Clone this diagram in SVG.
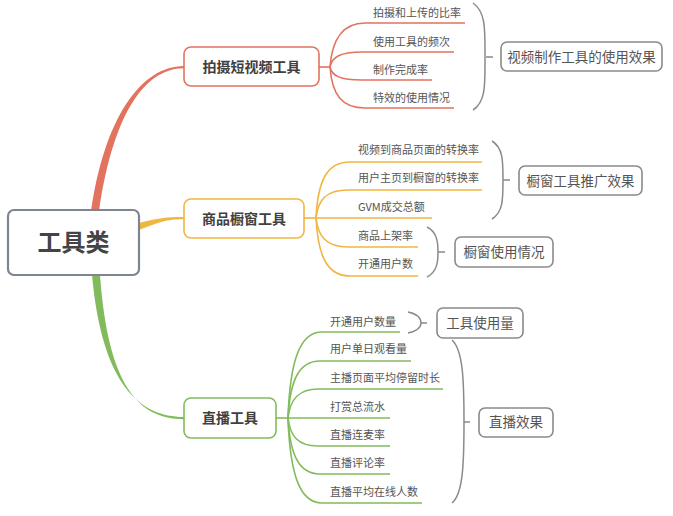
<svg xmlns="http://www.w3.org/2000/svg" width="673" height="516" viewBox="0 0 673 516">
<style>
text{font-family:"Noto Sans CJK SC","Noto Sans",sans-serif;fill:#444}
.leaf{font-size:11px;fill:#555}
.sum{font-size:13.5px;fill:#555}
.br{font-size:14px;font-weight:bold;fill:#404040}
.r{stroke:#e2735f;fill:none;stroke-width:1.6}
.y{stroke:#f0b640;fill:none;stroke-width:1.6}
.g{stroke:#82bb5c;fill:none;stroke-width:1.6}
.k{stroke:#8a8a8a;fill:none;stroke-width:1.5}
.box{fill:#fff;stroke-width:1.6}
</style>
<rect width="673" height="516" fill="#fff"/>
<g id="connectors">
<path d="M91 212 C104 120 140 66 184 66 L184 68.2 C142 68.2 112 120 99 212 Z" fill="#e2735f"/>
<path d="M139 223 C158 218 166 217 184 217 L184 219.2 C166 219.2 160 222 139 230 Z" fill="#f0b640"/>
<path d="M92 275 C102 385 140 417 184 417 L184 419.2 C138 419.2 108 385 100 275 Z" fill="#82bb5c"/>
<path class="r" d="M319 67 H330"/>
<path class="r" d="M330 67 C332 40 342 23 365 23 H465"/>
<path class="r" d="M330 67 C332 57 340 52 362 52 H454"/>
<path class="r" d="M330 67 C332 76 340 80 362 80 H432"/>
<path class="r" d="M330 67 C332 95 342 108 365 108 H454"/>
<path class="y" d="M304 218 H316"/>
<path class="y" d="M316 218 C318 180 327 162 350 162 H482"/>
<path class="y" d="M316 218 C318 200 326 190 348 190 H482"/>
<path class="y" d="M316 218 H432"/>
<path class="y" d="M316 218 C318 236 326 247 348 247 H418"/>
<path class="y" d="M316 218 C318 256 327 276 350 276 H418"/>
<path class="g" d="M276 418 H288"/>
<path class="g" d="M288 418 C290 360 300 332 322 332 H400"/>
<path class="g" d="M288 418 C290 380 299 361 320 361 H411"/>
<path class="g" d="M288 418 C290 400 298 389 318 389 H443"/>
<path class="g" d="M288 418 H390"/>
<path class="g" d="M288 418 C290 436 298 446 318 446 H390"/>
<path class="g" d="M288 418 C290 455 299 474 320 474 H390"/>
<path class="g" d="M288 418 C290 475 300 503 322 503 H422"/>
<path class="k" d="M473 3 C486 12 485 30 485 57 C485 84 486 102 473 110 M486 57 H493"/>
<path class="k" d="M492 141 C503 148 503 160 503 180 C503 200 503 212 492 219 M503 180 H510"/>
<path class="k" d="M427 227 C437 232 438 242 438 252 C438 262 437 272 427 277 M438 252 H445"/>
<path class="k" d="M408 312 C417 314 421 318 421 323 C421 328 417 331 408 333 M421 323 H427"/>
<path class="k" d="M452 340 C463 350 464 380 464 422 C464 464 463 494 452 503 M464 422 H470"/>
</g>
<g id="root">
<rect x="8" y="210" width="131" height="65" rx="6" fill="#fff" stroke="#7d8590" stroke-width="2.2"/>
<text x="73.5" y="251" text-anchor="middle" font-size="24" font-weight="bold" fill="#444">工具类</text>
</g>
<g id="b1">
<rect class="box" x="184" y="47" width="135" height="39" rx="7" stroke="#e2735f"/>
<text class="br" x="251.5" y="72" text-anchor="middle">拍摄短视频工具</text>
</g>
<g id="b2">
<rect class="box" x="184" y="199" width="120" height="39" rx="7" stroke="#f0b640"/>
<text class="br" x="244" y="223.5" text-anchor="middle">商品橱窗工具</text>
</g>
<g id="b3">
<rect class="box" x="184" y="398" width="92" height="40" rx="7" stroke="#82bb5c"/>
<text class="br" x="230" y="423" text-anchor="middle">直播工具</text>
</g>
<g id="leaves1">
<text class="leaf" x="373" y="17">拍摄和上传的比率</text>
<text class="leaf" x="373" y="46">使用工具的频次</text>
<text class="leaf" x="373" y="73.5">制作完成率</text>
<text class="leaf" x="373" y="102">特效的使用情况</text>
</g>
<g id="leaves2">
<text class="leaf" x="358" y="154">视频到商品页面的转换率</text>
<text class="leaf" x="358" y="182">用户主页到橱窗的转换率</text>
<text class="leaf" x="358" y="211">GVM成交总额</text>
<text class="leaf" x="358" y="240">商品上架率</text>
<text class="leaf" x="358" y="268">开通用户数</text>
</g>
<g id="leaves3">
<text class="leaf" x="330" y="326">开通用户数量</text>
<text class="leaf" x="330" y="353">用户单日观看量</text>
<text class="leaf" x="330" y="382">主播页面平均停留时长</text>
<text class="leaf" x="330" y="411">打赏总流水</text>
<text class="leaf" x="330" y="439">直播连麦率</text>
<text class="leaf" x="330" y="467">直播评论率</text>
<text class="leaf" x="330" y="496">直播平均在线人数</text>
</g>
<g id="s1">
<rect class="box" x="501" y="42" width="161" height="29" rx="6" stroke="#8a8a8a"/>
<text class="sum" x="581.5" y="61.5" text-anchor="middle">视频制作工具的使用效果</text>
</g>
<g id="s2">
<rect class="box" x="519" y="166" width="123" height="29" rx="6" stroke="#8a8a8a"/>
<text class="sum" x="580.5" y="185.5" text-anchor="middle">橱窗工具推广效果</text>
</g>
<g id="s3">
<rect class="box" x="455" y="237" width="98" height="30" rx="6" stroke="#8a8a8a"/>
<text class="sum" x="504" y="256.5" text-anchor="middle">橱窗使用情况</text>
</g>
<g id="s4">
<rect class="box" x="437" y="308" width="86" height="30" rx="6" stroke="#8a8a8a"/>
<text class="sum" x="480" y="327.5" text-anchor="middle">工具使用量</text>
</g>
<g id="s5">
<rect class="box" x="479" y="408" width="74" height="29" rx="6" stroke="#8a8a8a"/>
<text class="sum" x="516" y="427" text-anchor="middle">直播效果</text>
</g>
</svg>
